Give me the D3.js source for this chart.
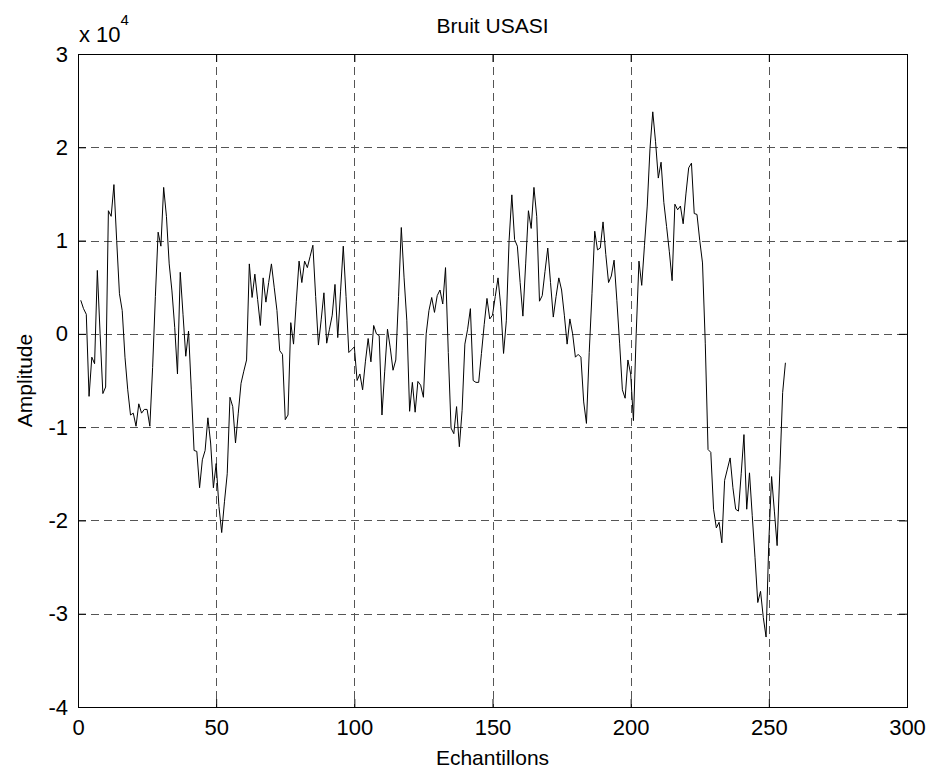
<!DOCTYPE html>
<html>
<head>
<meta charset="utf-8">
<script src="https://cdn.jsdelivr.net/npm/d3@7"></script>
<style>
  html, body { margin: 0; padding: 0; background: #fff; }
  svg text { font-family: "Liberation Sans", Arial, Helvetica, sans-serif; fill: #000; }
</style>
</head>
<body>
<svg id="chart" width="932" height="769"></svg>
<script>
// ---- Data (amplitude in units of 10^4), samples 1..256 ----
const amplitudeE4 = [
  0.36, 0.27, 0.21, -0.67, -0.25, -0.32, 0.68, 0.0, -0.64, -0.57,
  1.32, 1.26, 1.6, 1.0, 0.43, 0.25, -0.25, -0.6, -0.87, -0.85,
  -0.99, -0.75, -0.85, -0.81, -0.81, -0.99, -0.36, 0.4, 1.09, 0.94,
  1.57, 1.26, 0.75, 0.46, 0.07, -0.43, 0.66, 0.21, -0.24, 0.03,
  -0.6, -1.25, -1.26, -1.65, -1.35, -1.25, -0.9, -1.17, -1.65, -1.39,
  -1.85, -2.13, -1.8, -1.5, -0.68, -0.78, -1.17, -0.85, -0.53, -0.4,
  -0.28, 0.75, 0.39, 0.64, 0.37, 0.09, 0.6, 0.34, 0.55, 0.75,
  0.5, 0.25, -0.18, -0.22, -0.92, -0.87, 0.12, -0.11, 0.35, 0.78,
  0.55, 0.78, 0.71, 0.83, 0.95, 0.4, -0.12, 0.15, 0.44, -0.1,
  0.05, 0.2, 0.53, -0.04, 0.45, 0.94, 0.4, -0.2, -0.17, -0.14,
  -0.5, -0.43, -0.6, -0.3, -0.05, -0.3, 0.09, 0.0, -0.02, -0.87,
  -0.4, 0.05, -0.15, -0.39, -0.28, 0.4, 1.14, 0.6, 0.14, -0.83,
  -0.52, -0.84, -0.51, -0.55, -0.68, 0.0, 0.25, 0.39, 0.23, 0.41,
  0.47, 0.32, 0.71, -0.2, -1.01, -1.07, -0.78, -1.21, -0.82, -0.11,
  0.05, 0.27, -0.5, -0.52, -0.52, -0.21, 0.1, 0.38, 0.16, 0.2,
  0.4, 0.6, 0.29, -0.21, 0.14, 1.0, 1.49, 1.01, 0.94, 0.55,
  0.19, 0.75, 1.32, 1.13, 1.57, 1.26, 0.35, 0.41, 0.67, 0.92,
  0.55, 0.18, 0.4, 0.6, 0.47, 0.2, -0.11, 0.16, 0.0, -0.25,
  -0.22, -0.25, -0.73, -0.96, -0.2, 0.43, 1.1, 0.9, 0.92, 1.2,
  0.85, 0.55, 0.62, 0.79, 0.36, -0.1, -0.6, -0.69, -0.28, -0.43,
  -0.93, 0.0, 0.78, 0.52, 0.95, 1.37, 1.99, 2.38, 2.06, 1.67,
  1.84, 1.41, 1.15, 0.88, 0.57, 1.39, 1.33, 1.37, 1.18, 1.5,
  1.78, 1.83, 1.29, 1.28, 1.0, 0.76, -0.1, -1.24, -1.27, -1.88,
  -2.08, -2.02, -2.24, -1.57, -1.45, -1.33, -1.65, -1.88, -1.9, -1.5,
  -1.08, -1.88, -1.49, -1.95, -2.4, -2.88, -2.76, -3.04, -3.25, -2.22,
  -1.53, -1.9, -2.27, -1.45, -0.63, -0.31
];
const xTicks = [0, 50, 100, 150, 200, 250, 300];
const yTicks = [-4, -3, -2, -1, 0, 1, 2, 3];
const titleText = "Bruit USASI";
const xLabelText = "Echantillons";
const yLabelText = "Amplitude";

(function () {
// ---- Layout ----
const pL = 78, pR = 907, pT = 54, pB = 707;
const svg = d3.select("#chart");

const x = d3.scaleLinear().domain([0, 300]).range([pL, pR]);
const y = d3.scaleLinear().domain([-4, 3]).range([pB, pT]);
const fmt = d3.formatLocale({decimal: ".", thousands: ",", grouping: [3], currency: ["", ""], minus: "-"}).format("d");

// Grid
const grid = svg.append("g").attr("stroke", "#555").attr("stroke-width", 1)
  .attr("stroke-dasharray", "8,5").attr("shape-rendering", "crispEdges");
grid.selectAll("line.vx").data(xTicks.slice(1, -1)).join("line")
  .attr("x1", d => Math.round(x(d)) + 0.5).attr("x2", d => Math.round(x(d)) + 0.5)
  .attr("y1", pT).attr("y2", pB);
grid.selectAll("line.hy").data(yTicks.slice(1, -1)).join("line")
  .attr("y1", d => Math.round(y(d)) + 0.5).attr("y2", d => Math.round(y(d)) + 0.5)
  .attr("x1", pL).attr("x2", pR);

// Line
const line = d3.line().x((d, i) => x(i + 1)).y(d => y(d));
svg.append("path").datum(amplitudeE4)
  .attr("fill", "none").attr("stroke", "#000").attr("stroke-width", 1)
  .attr("d", line);

// Axes
const fs = 22;
const gx = svg.append("g").attr("transform", `translate(0,${pB})`)
  .call(d3.axisBottom(x).tickValues(xTicks).tickFormat(fmt).tickSizeInner(-8).tickSizeOuter(0).tickPadding(12));
const gy = svg.append("g").attr("transform", `translate(${pL},0)`)
  .call(d3.axisLeft(y).tickValues(yTicks).tickFormat(fmt).tickSizeInner(-8).tickSizeOuter(0).tickPadding(10));
const gxt = svg.append("g").attr("transform", `translate(0,${pT})`)
  .call(d3.axisTop(x).tickValues(xTicks).tickSizeInner(-8).tickSizeOuter(0).tickFormat(""));
const gyr = svg.append("g").attr("transform", `translate(${pR},0)`)
  .call(d3.axisRight(y).tickValues(yTicks).tickSizeInner(-8).tickSizeOuter(0).tickFormat(""));
[gx, gy, gxt, gyr].forEach(g => {
  g.selectAll("path.domain").remove();
  g.selectAll("line").attr("stroke", "#000");
  g.selectAll("text").attr("font-size", fs).attr("font-family", "Liberation Sans, Arial, sans-serif").attr("fill", "#000");
});

// Box
svg.append("rect").attr("x", pL + 0.5).attr("y", pT + 0.5)
  .attr("width", pR - pL).attr("height", pB - pT)
  .attr("fill", "none").attr("stroke", "#000").attr("stroke-width", 1);

// Exponent label
const ex = svg.append("text").attr("x", pL + 1).attr("y", 42).attr("font-size", fs);
ex.append("tspan").text("x 10");
ex.append("tspan").attr("font-size", 15).attr("dy", -17).text("4");

// Title
svg.append("text").attr("x", (pL + pR) / 2).attr("y", 33)
  .attr("text-anchor", "middle").attr("font-size", 21).text(titleText);

// X label
svg.append("text").attr("x", (pL + pR) / 2).attr("y", 765)
  .attr("text-anchor", "middle").attr("font-size", 21).text(xLabelText);

// Y label
svg.append("text")
  .attr("transform", `translate(32,${(pT + pB) / 2}) rotate(-90)`)
  .attr("text-anchor", "middle").attr("font-size", 21).text(yLabelText);
})();
</script>
</body>
</html>
